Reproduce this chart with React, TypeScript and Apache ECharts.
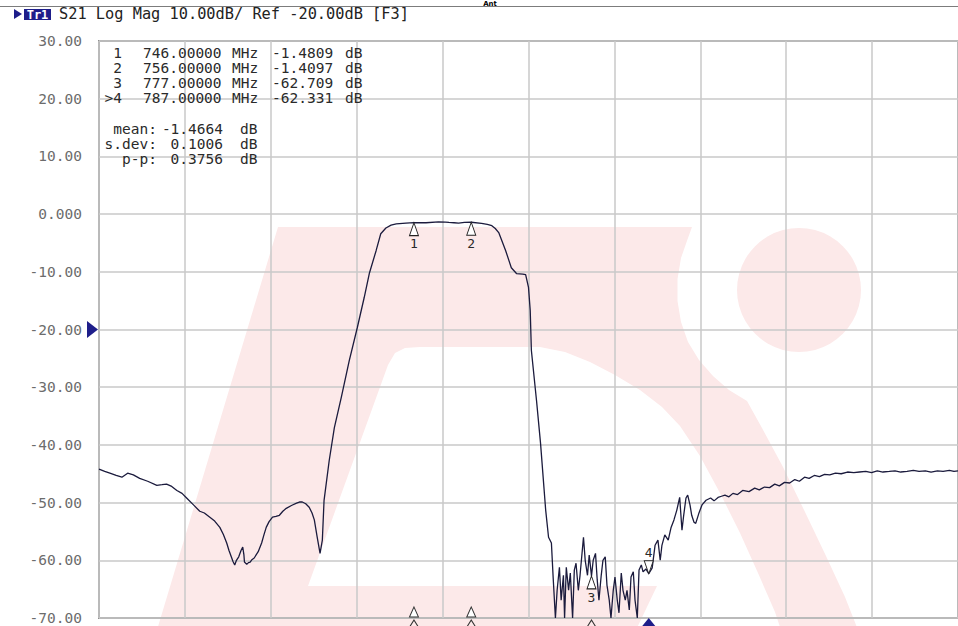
import React, { useEffect, useRef } from "react";
import * as echarts from "echarts";

// ---------------- data ----------------
const freqMHz = [
  691.0, 692.0, 692.9, 694.0, 695.0, 696.0, 697.0, 698.1, 699.5, 701.1, 702.0, 702.8, 703.7, 704.6, 705.5, 706.3,
  707.5, 708.6, 709.4, 710.3, 711.2, 712.1, 712.7, 713.3, 713.7, 714.1, 714.4, 714.7, 715.0, 715.4, 715.8, 716.1,
  716.3, 716.4, 716.8, 717.1, 717.4, 717.7, 718.1, 718.8, 719.4, 719.8, 720.2, 720.7, 721.3, 721.9, 722.5, 723.1,
  723.7, 724.6, 725.5, 726.0, 726.5, 727.1, 727.7, 728.2, 728.6, 729.1, 729.6, 730.0, 730.3, 731.2, 732.1, 733.3,
  734.7, 736.1, 737.3, 738.2, 739.4, 740.2, 741.1, 742.0, 742.9, 744.6, 746.0, 748.1, 750.3, 751.5, 752.1, 753.0,
  753.8, 754.8, 756.0, 757.8, 758.8, 759.6, 760.2, 760.8, 762.0, 763.0, 763.9, 765.0, 765.5, 766.0, 766.3, 766.5,
  767.4, 768.1, 769.0, 769.5, 770.0, 770.3, 770.7,
  771.0, 771.4, 771.7, 772.1, 772.3, 772.6, 773.0, 773.3, 773.7, 774.0, 774.3, 774.7, 775.0, 775.6, 775.9, 776.3,
  776.6, 777.0, 777.3, 777.7, 778.0, 778.3, 778.7, 779.0, 779.4, 779.7, 780.1, 780.4, 780.8, 781.1, 781.5, 781.8,
  782.2, 782.5, 782.9, 783.2, 783.6, 783.9, 784.3, 784.6, 785.0, 785.3, 785.7, 786.0, 786.5, 787.0, 787.6, 788.1,
  788.6, 789.0, 789.3, 789.8, 790.4, 790.9, 791.4, 791.9, 792.4, 792.8, 793.1, 793.5, 793.8, 794.2, 794.5, 794.9,
  795.2, 795.8, 796.3, 797.0, 797.8, 798.4, 799.1, 799.7, 800.3, 801.0, 801.7, 802.5, 803.4, 804.5, 805.5, 806.3,
  807.2, 808.1, 809.0, 809.8, 810.7, 811.6, 812.5, 813.3, 814.2, 815.0, 815.9, 816.8, 817.7, 818.6, 819.6, 820.6,
  821.7, 822.8, 823.8, 824.9, 825.9, 826.9, 827.9, 829.0, 830.0, 831.0, 832.1, 833.2, 834.2, 835.3, 836.3, 837.4,
  838.4, 839.5, 840.3, 841.0,
];
const s21dB = [
  -44.2, -44.6, -44.9, -45.3, -45.6, -44.9, -45.2, -45.8, -46.3, -47.0, -46.9, -46.8, -47.2, -47.9, -48.4, -49.2,
  -50.4, -51.5, -51.8, -52.5, -53.2, -54.3, -55.5, -57.0, -58.3, -59.4, -60.2, -60.8, -60.0, -59.4, -58.3, -57.7,
  -59.0, -60.3, -60.7, -60.4, -60.3, -59.9, -59.6, -58.5, -57.0, -55.6, -54.3, -53.3, -52.5, -52.4, -52.2, -51.5,
  -51.0, -50.5, -50.1, -49.9, -49.9, -50.2, -50.8, -51.8, -53.0, -56.0, -58.8, -56.5, -49.6, -42.7, -37.0, -31.8,
  -25.4, -19.7, -14.5, -10.3, -6.3, -3.4, -2.4, -1.9, -1.7, -1.55, -1.4809, -1.5, -1.35, -1.4, -1.45, -1.5,
  -1.55, -1.45, -1.4097, -1.6, -1.8, -2.0, -2.5, -3.2, -6.3, -9.3, -10.3, -10.4, -10.5, -12.7, -16.7, -23.6,
  -32.3, -39.7, -51.3, -56.0, -57.0, -62.9, -70.0,
  -65.2, -61.2, -66.9, -62.6, -70.0, -61.2, -65.2, -62.2, -70.0, -61.7, -60.5, -65.2, -62.6, -56.0, -60.0, -62.6,
  -59.1, -62.709, -60.0, -58.8, -63.4, -66.9, -62.6, -60.0, -59.4, -64.3, -66.9, -70.0, -65.2, -62.9, -66.9, -69.1,
  -62.2, -65.2, -66.9, -65.2, -68.6, -62.9, -62.0, -66.9, -70.0, -61.7, -60.8, -62.0, -61.5, -62.331, -61.3, -57.4,
  -56.5, -60.0, -57.4, -55.6, -56.5, -54.3, -53.0, -51.3, -49.1, -54.8, -52.2, -49.2, -48.7, -50.4, -52.2, -53.4,
  -53.6, -51.7, -50.4, -49.6, -49.2, -49.7, -49.1, -48.9, -48.7, -49.0, -48.4, -48.6, -47.9, -48.1, -47.5, -47.8,
  -47.3, -47.4, -46.8, -47.1, -46.5, -46.6, -46.0, -46.3, -45.6, -45.8, -45.3, -45.5, -45.1, -45.2, -44.9, -45.0,
  -44.7, -44.8, -44.7, -44.6, -44.8, -44.5, -44.7, -44.6, -44.5, -44.7, -44.6, -44.4, -44.6, -44.5, -44.7, -44.5,
  -44.6, -44.4, -44.6, -44.5,
];

const startMHz = 691;
const stopMHz = 841;
const divisions = 10;
const yMin = -70;
const yMax = 30;
const yStep = 10;
const refLevelDB = -20;

const markerLabels = ["1", "2", "3", ">4"];
const markerFreqs = [746, 756, 777, 787];
const markerVals = [-1.4809, -1.4097, -62.709, -62.331];
const statNames = ["mean:", "s.dev:", "p-p:"];
const statVals = [-1.4664, 0.1006, 0.3756];
const traceName = "Tr1";
const headerText = "S21 Log Mag 10.00dB/ Ref -20.00dB [F3]";
const titleText = "Ant";

// ---------------- styling ----------------
const MONO = '"DejaVu Sans Mono", monospace';
const NAVY = "#1e1e8a";
const TRACE = "#1b1b3d";
const PINK = "#fce9e9";
const TXT = "#2a2a2a";

export default function App() {
  const ref = useRef<HTMLDivElement>(null);

  useEffect(() => {
    if (!ref.current) return;
    const chart = echarts.init(ref.current, undefined, { renderer: "svg" });

    const data = freqMHz.map((f, i) => [f, s21dB[i]]);

    const upTri = "path://M5,0L10,14L0,14Z";
    const downTri = "path://M0,0L10,0L5,14Z";
    const chevron = "path://M0,8L5,0L10,8";
    const lblBase = { color: TXT, fontSize: 13, fontFamily: MONO };

    const mp: any[] = [];
    markerFreqs.forEach((f, i) => {
      const active = i === 3;
      mp.push({
        coord: [f, markerVals[i]],
        symbol: active ? downTri : upTri,
        symbolSize: [9, 13],
        symbolOffset: [0, active ? -6.5 : 6.5],
        itemStyle: { color: "#ffffff", borderColor: "#222", borderWidth: 1 },
        label: { show: true, position: active ? "top" : "bottom", distance: 1, formatter: String(i + 1), ...lblBase },
      });
      if (i < 2) {
        mp.push({
          coord: [f, yMin],
          symbol: upTri,
          symbolSize: [9, 10],
          symbolOffset: [0, -6],
          itemStyle: { color: "#ffffff", borderColor: "#333", borderWidth: 1 },
          label: { show: false },
        });
      }
      if (active) {
        mp.push({
          coord: [f, yMin],
          symbol: "diamond",
          symbolSize: [13, 16],
          symbolOffset: [0, 8],
          itemStyle: { color: NAVY },
          label: { show: false },
        });
      } else {
        mp.push({
          coord: [f, yMin],
          symbol: chevron,
          symbolSize: [10, 8],
          symbolOffset: [0, 6],
          itemStyle: { color: "none", borderColor: "#333", borderWidth: 1 },
          label: { show: false },
        });
      }
    });
    mp.push({
      coord: [startMHz, refLevelDB],
      symbol: "triangle",
      symbolRotate: -90,
      symbolSize: [17, 11],
      symbolOffset: [-6.5, 0],
      itemStyle: { color: NAVY },
      label: { show: false },
    });

    // watermark (decoration)
    const wmOuter = [
      [157, 630], [278, 227], [692, 227], [688, 238], [681, 258], [677.5, 279], [677.5, 301], [681, 322],
      [688, 342], [699, 360], [713, 376], [729, 390], [747, 401], [762, 428], [783, 467], [805, 512],
      [826, 556], [845, 597], [858, 630],
    ];
    const wmInner = [
      [308, 586], [388, 365], [395, 353], [405, 348], [420, 347], [540, 347], [565, 352], [590, 362],
      [615, 375], [640, 390], [662, 407], [680, 426], [700, 456], [720, 493], [740, 533], [758, 573],
      [775, 612], [781, 630], [636, 630], [657, 586],
    ];

    const txt = (text: string, x: number, y: number, align: string, extra: any = {}) => ({
      type: "text",
      x,
      y,
      z: 100,
      silent: true,
      style: {
        text,
        fill: extra.fill || TXT,
        font: extra.font || `14.5px ${MONO}`,
        textAlign: align,
        textVerticalAlign: extra.va || "middle",
      },
    });

    const graphics: any[] = [
      { type: "polygon", z: -1, silent: true, shape: { points: wmOuter }, style: { fill: PINK } },
      { type: "polygon", z: -1, silent: true, shape: { points: wmInner }, style: { fill: "#ffffff" } },
      { type: "circle", z: -1, silent: true, shape: { cx: 799, cy: 290, r: 62 }, style: { fill: PINK } },
      { type: "line", z: 100, silent: true, shape: { x1: 0, y1: 6.5, x2: 958, y2: 6.5 }, style: { stroke: "#7c7c7c", lineWidth: 1.2 } },
      { type: "polygon", z: 100, silent: true, shape: { points: [[14, 9], [22, 14], [14, 19]] }, style: { fill: NAVY } },
      { type: "rect", z: 100, silent: true, shape: { x: 24, y: 9, width: 27, height: 11 }, style: { fill: NAVY } },
      txt(traceName, 37.5, 14.5, "center", { fill: "#ffffff", font: `bold 12px ${MONO}` }),
      txt(headerText, 59, 14, "left", { fill: "#222222", font: `15.3px ${MONO}` }),
      txt(titleText, 490, 0, "center", { fill: "#000000", font: 'bold 7px "DejaVu Sans"', va: "top" }),
    ];
    const rowY = [52.7, 67.7, 82.7, 98];
    markerLabels.forEach((m, i) => {
      graphics.push(txt(m, 122, rowY[i], "right"));
      graphics.push(txt(markerFreqs[i].toFixed(5), 143, rowY[i], "left"));
      graphics.push(txt("MHz", 232, rowY[i], "left"));
      graphics.push(txt(markerVals[i].toPrecision(5), 272, rowY[i], "left"));
      graphics.push(txt("dB", 345, rowY[i], "left"));
    });
    const statY = [129.3, 144, 158.5];
    statNames.forEach((s, i) => {
      graphics.push(txt(s, 157, statY[i], "right"));
      graphics.push(txt(statVals[i].toFixed(4), 223, statY[i], "right"));
      graphics.push(txt("dB", 240, statY[i], "left"));
    });

    const option: any = {
      animation: false,
      backgroundColor: "#ffffff",
      grid: {
        left: 99,
        top: 41,
        width: 862,
        height: 577,
        show: true,
        borderColor: "#8e8e8e",
        borderWidth: 2,
        backgroundColor: "transparent",
      },
      xAxis: [
        {
          type: "value",
          min: 0,
          max: divisions,
          interval: 1,
          axisLine: { show: false },
          axisTick: { show: false },
          axisLabel: { show: false },
          splitLine: { show: true, lineStyle: { color: "#c8c8c8", width: 1.5 } },
        },
        {
          type: "value",
          min: startMHz,
          max: stopMHz,
          show: false,
          splitLine: { show: false },
        },
      ],
      yAxis: {
        type: "value",
        min: yMin,
        max: yMax,
        interval: yStep,
        axisLine: { show: false },
        axisTick: { show: false },
        splitLine: { show: true, lineStyle: { color: "#c8c8c8", width: 1.5 } },
        axisLabel: {
          margin: 17,
          color: "#6c6c6c",
          fontFamily: MONO,
          fontSize: 14.5,
          formatter: (v: number) => (v === 0 ? "0.000" : v.toFixed(2)),
        },
      },
      series: [
        {
          type: "line",
          name: "S21",
          xAxisIndex: 1,
          data,
          showSymbol: false,
          symbol: "none",
          clip: true,
          lineStyle: { color: TRACE, width: 1.3 },
          markPoint: { silent: true, animation: false, data: mp },
        },
      ],
      graphic: graphics,
    };

    chart.setOption(option);
    return () => chart.dispose();
  }, []);

  return (
    <div
      ref={ref}
      style={{ position: "fixed", left: 0, top: 0, width: 958, height: 626, background: "#fff" }}
    />
  );
}
